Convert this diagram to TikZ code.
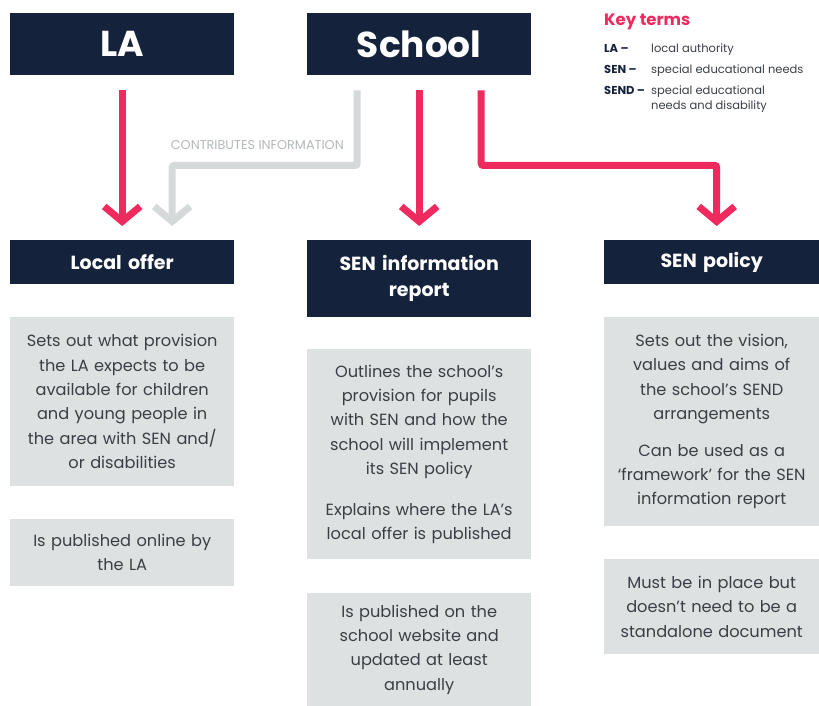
\documentclass[tikz,border=0pt]{standalone}
\usepackage{fontspec}
\setmainfont{Poppins}
\usepackage{tikz}
\usetikzlibrary{arrows.meta,calc}
\usepackage{xcolor}
\definecolor{navy}{HTML}{14223C}
\definecolor{hotpink}{HTML}{EE2A5E}
\definecolor{boxgrey}{HTML}{DEE1E2}
\definecolor{arrowgrey}{HTML}{D6D9DA}
\definecolor{bodygrey}{HTML}{3A3F45}
\definecolor{labelgrey}{HTML}{B3B8BB}
\newcommand{\bodyfont}{\fontsize{16.2}{24.4}\selectfont}
\newcommand{\keyline}[4]{\node[keylabel] (#1l) at (604,#2) {#3};
    \node[keydesc] (#1d) at (651,#2) {#4};}

\tikzset{
  topbox/.style={fill=navy, text=white, anchor=north west, inner sep=0pt,
    minimum width=224pt, minimum height=62pt, font=\fontsize{36}{40}\selectfont\bfseries},
  subbox/.style={fill=navy, text=white, anchor=north west, inner sep=0pt, align=center,
    font=\fontsize{19}{26}\selectfont\bfseries},
  infobox/.style={fill=boxgrey, text=bodygrey, anchor=north west, inner sep=0pt,
    align=center, font=\bodyfont},
  flow/.style={line width=7pt, hotpink, rounded corners=2pt,
    -{Straight Barb[length=15pt,width=36pt]}, shorten <=15pt, shorten >=14pt},
  feed/.style={flow, arrowgrey},
  keylabel/.style={anchor=base west, inner sep=0pt, text=navy,
    font=\fontsize{11.5}{13}\selectfont\bfseries},
  keydesc/.style={anchor=base west, inner sep=0pt, text=bodygrey,
    font=\fontsize{11.5}{13}\selectfont}
}

\begin{document}
\begin{tikzpicture}[x=1pt,y=-1pt]

    \useasboundingbox (0,0) rectangle (819,706);

    % top row
    \node[topbox] (la) at (10,13) {LA};
    \node[topbox] (school) at (307,13) {School};

    % key terms
    \node[anchor=base west, inner sep=0pt, text=hotpink,
      font=\fontsize{16.5}{18}\selectfont\bfseries] (keyhead) at (604,26) {Key terms};
    \keyline{la}{53}{LA –}{local authority}
    \keyline{sen}{74}{SEN –}{special educational needs}
    \keyline{send}{95}{SEND –}{special educational}
    \node[keydesc] (send2d) at (651,110) {needs and disability};

    % second row
    \node[subbox, text width=224pt, minimum height=44pt] (offer) at (10,240) {Local offer};
    \node[subbox, text width=224pt, minimum height=77pt] (report) at (307,240) {SEN information\\report};
    \node[subbox, text width=215pt, minimum height=44pt] (policy) at (604,240) {SEN policy};

    % grey boxes
    \node[infobox, text width=224pt, minimum height=169pt] (offer1) at (10,317)
      {Sets out what provision\\the LA expects to be\\available for children\\and young people in\\the area with SEN and/\\or disabilities};
    \node[infobox, text width=224pt, minimum height=67pt] (offer2) at (10,519)
      {Is published online by\\the LA};
    \node[infobox, text width=224pt, minimum height=210pt] (report1) at (307,349)
      {Outlines the school’s\\provision for pupils\\with SEN and how the\\school will implement\\its SEN policy\\[16pt]Explains where the LA’s\\local offer is published};
    \node[infobox, text width=224pt, minimum height=113pt] (report2) at (307,593)
      {Is published on the\\school website and\\updated at least\\annually};
    \node[infobox, text width=215pt, minimum height=209pt] (policy1) at (604,317)
      {Sets out the vision,\\values and aims of\\the school’s SEND\\arrangements\\[12pt]Can be used as a\\‘framework’ for the SEN\\information report};
    \node[infobox, text width=215pt, minimum height=95pt] (policy2) at (604,559)
      {Must be in place but\\doesn’t need to be a\\standalone document};

    % arrows
    \draw[feed] ([xshift=-62pt]school.south) -- ++(0,90)
      -| node[pos=0.27, above=9pt, text=labelgrey, font=\fontsize{12.8}{14}\selectfont] (contrib) {CONTRIBUTES INFORMATION}
      ([xshift=50pt]offer.north);
    \draw[flow] (la.south) -- (offer.north);
    \draw[flow] (school.south) -- (report.north);
    \draw[flow] ([xshift=62pt]school.south) -- ++(0,90) -| ([xshift=5pt]policy.north);

\end{tikzpicture}
\end{document}
